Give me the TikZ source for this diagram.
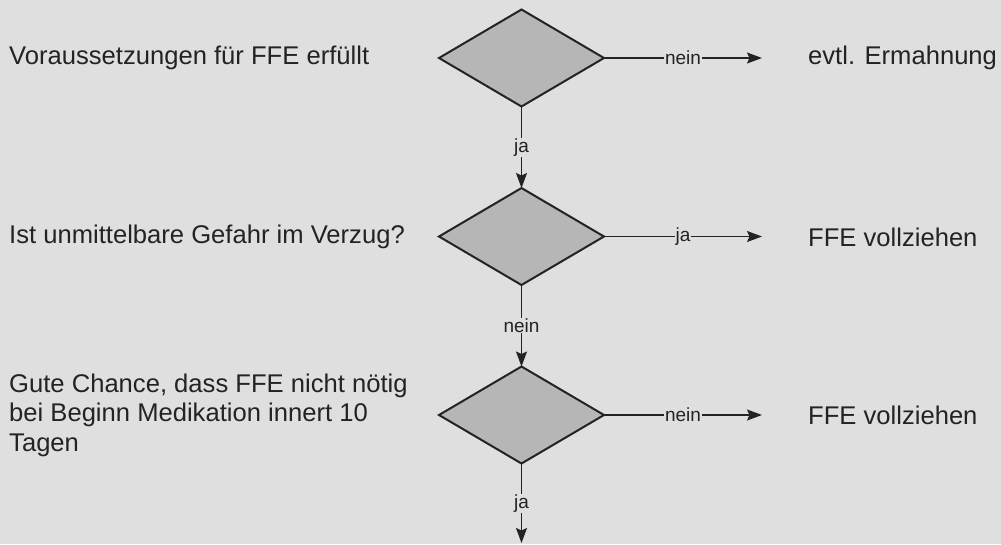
\documentclass[tikz,border=0pt]{standalone}
\usepackage{fontspec}
\setmainfont{Liberation Sans}
\usetikzlibrary{shapes.geometric,arrows.meta}
\definecolor{paper}{RGB}{223,223,223}
\definecolor{dfill}{RGB}{182,182,182}
\definecolor{ink}{RGB}{35,35,35}
\begin{document}
\begin{tikzpicture}[x=1pt,y=-1pt,
  decision/.style={diamond, draw=ink, fill=dfill, line width=2pt, minimum width=165pt, minimum height=97pt, inner sep=0pt, outer sep=0pt},
  txt/.style={anchor=west, inner sep=0pt, text=ink, font=\fontsize{25.6}{29.5}\selectfont},
  lbl/.style={fill=paper, inner sep=0.6pt, text=ink, font=\fontsize{19}{21}\selectfont},
  arr/.style={draw=ink, line width=1.4pt, -{Stealth[length=15pt,width=11pt,inset=2.5pt]}}]
\useasboundingbox[fill=paper] (0,0) rectangle (1001,544);
% decisions
\node[decision] (d1) at (521.5,58) {};
\node[decision] (d2) at (521.5,236.5) {};
\node[decision] (d3) at (521.5,415) {};
% left texts
\node[txt] (q1) at (9,58) {Voraussetzungen für FFE erfüllt};
\node[txt] (q2) at (9,237) {Ist unmittelbare Gefahr im Verzug?};
\node[txt, align=left] (q3) at (9,415) {Gute Chance, dass FFE nicht nötig\\bei Beginn Medikation innert 10\\Tagen};
% right texts
\node[txt] (r1) at (808,58) {evtl. Ermahnung};
\node[txt] (r2) at (808,237) {FFE vollziehen};
\node[txt] (r3) at (808,415) {FFE vollziehen};
% arrow ends
\coordinate (t1) at (762,58);
\coordinate (t2) at (762,236.5);
\coordinate (t3) at (762,415);
\coordinate (bot) at (521.5,543);
% connectors
\draw[arr] (d1.east) -- node[lbl] {nein} (t1);
\draw[arr] (d2.east) -- node[lbl] {ja} (t2);
\draw[arr] (d3.east) -- node[lbl] {nein} (t3);
\draw[arr] (d1.south) -- node[lbl] {ja} (d2.north);
\draw[arr] (d2.south) -- node[lbl] {nein} (d3.north);
\draw[arr] (d3.south) -- node[lbl] {ja} (bot);
\end{tikzpicture}
\end{document}
